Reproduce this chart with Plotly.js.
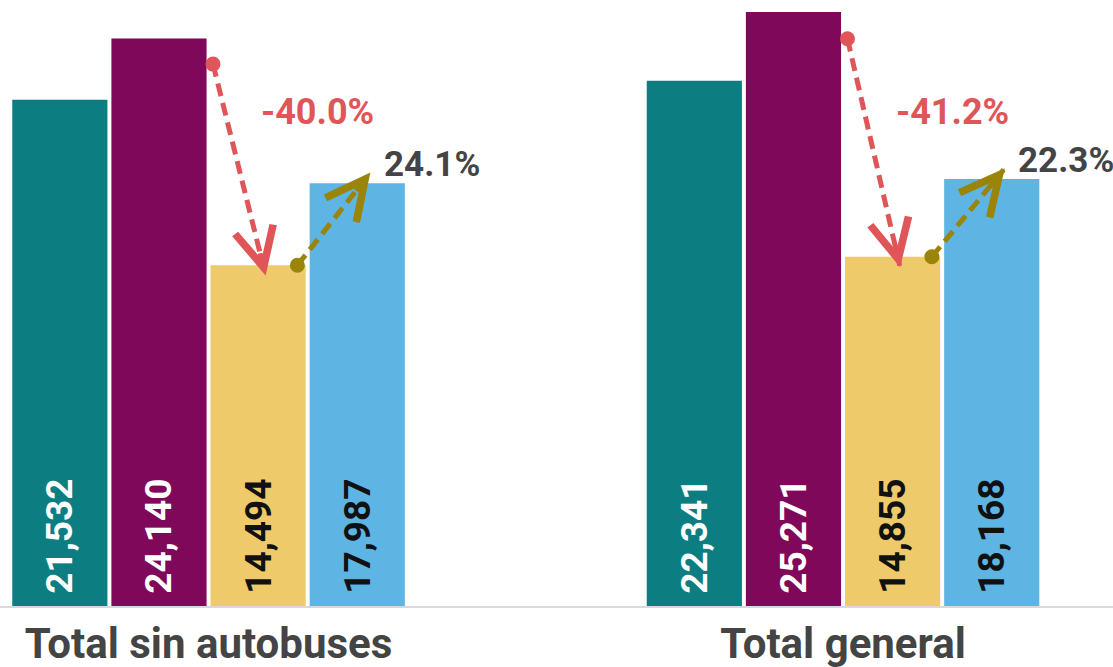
<!DOCTYPE html>
<html>
<head>
<meta charset="utf-8">
<script src="https://cdn.plot.ly/plotly-3.0.1.min.js"></script>
<style>html,body{margin:0;padding:0;background:#fff;}#chart{width:1113px;height:667px;}</style>
</head>
<body>
<div id="chart"></div>
<script>
// ---- data ----
const categories = ["Total sin autobuses", "Total general"];
const seriesNames = ["Serie 1", "Serie 2", "Serie 3", "Serie 4"];
const serie1 = [21532, 22341];
const serie2 = [24140, 25271];
const serie3 = [14494, 14855];
const serie4 = [17987, 18168];

// ---- styles ----
const barColors = ["#0C7E82", "#7F085B", "#EECA6A", "#5EB5E4"];
const textColors = ["#ffffff", "#ffffff", "#111111", "#111111"];
const redColor = "#E05558";
const oliveColor = "#9A840A";
const darkText = "#444444";
const FONT = "Roboto, 'Noto Sans', sans-serif";

const W = 1113, H = 667, MB = 61;
const XR = [-0.3287, 1.4255], YR = [0, 25780];
const pxPerX = W / (XR[1] - XR[0]);
const pxPerY = (H - MB) / (YR[1] - YR[0]);

const xPos = categories.map((c, i) => i);
const allSeries = [serie1, serie2, serie3, serie4];

const traces = allSeries.map((s, k) => ({
  type: "bar",
  name: seriesNames[k],
  x: xPos,
  y: s,
  marker: { color: barColors[k] },
  texttemplate: "\u00a0%{y:,}",
  textposition: "inside",
  insidetextanchor: "start",
  textangle: -90,
  textfont: { family: FONT, size: 37, weight: "bold", color: textColors[k] },
  hoverinfo: "skip",
  cliponaxis: false
}));

const annotations = [];
const fmt = v => v.toFixed(1) + "%";

xPos.forEach((x0, i) => {
  // red arrow: serie2 -> serie3
  const rs = { x: x0 + 0.007, y: serie2[i] * 0.955 };
  const re = { x: x0 + 0.09, y: serie3[i] * 0.97 };
  // olive arrow: serie3 -> serie4
  const os = { x: x0 + 0.14, y: serie3[i] };
  const oe = { x: x0 + 0.255, y: serie4[i] * 1.025 };

  [[rs, re, redColor], [os, oe, oliveColor]].forEach(([s, e, col]) => {
    traces.push({
      type: "scatter",
      mode: "lines+markers",
      x: [s.x, e.x],
      y: [s.y, e.y],
      line: { color: col, width: 5, dash: "13px,7px" },
      marker: { color: col, size: [15, 0], opacity: 1, line: { width: 0 } },
      hoverinfo: "skip",
      showlegend: false,
      cliponaxis: false
    });
    const lenPx = Math.hypot((e.x - s.x) * pxPerX, (e.y - s.y) * pxPerY);
    const f = 24 / lenPx;
    annotations.push({
      x: e.x, y: e.y, xref: "x", yref: "y",
      axref: "x", ayref: "y",
      ax: e.x - (e.x - s.x) * f, ay: e.y - (e.y - s.y) * f,
      text: " ", font: { size: 1 }, borderpad: 0,
      showarrow: true,
      arrowhead: 5, arrowsize: 1.6, arrowwidth: 4.8, arrowcolor: col
    });
  });

  const drop = (serie3[i] / serie2[i] - 1) * 100;
  const rise = (serie4[i] / serie3[i] - 1) * 100;
  annotations.push({
    x: x0 + 0.172, y: 21000, xref: "x", yref: "y",
    text: fmt(drop), showarrow: false, xanchor: "center", yanchor: "middle",
    font: { family: FONT, size: 36, weight: "bold", color: redColor }
  });
  annotations.push({
    x: x0 + 0.273, y: serie4[i] + 800, xref: "x", yref: "y",
    text: fmt(rise), showarrow: false, xanchor: "left", yanchor: "middle",
    font: { family: FONT, size: 35, weight: "bold", color: darkText }
  });
});

const layout = {
  width: W, height: H,
  margin: { l: 0, r: 0, t: 0, b: MB, pad: 0 },
  paper_bgcolor: "#ffffff", plot_bgcolor: "#ffffff",
  showlegend: false,
  barmode: "group",
  bargap: 0.375,
  bargroupgap: 0.04,
  font: { family: FONT },
  xaxis: {
    type: "linear",
    range: XR,
    tickvals: xPos,
    ticktext: categories,
    tickfont: { family: FONT, size: 42, weight: "bold", color: darkText },
    showgrid: false, zeroline: false,
    showline: true, linecolor: "#d9d9d9", linewidth: 2,
    ticks: "", fixedrange: true
  },
  yaxis: {
    range: YR,
    visible: false, showgrid: false, zeroline: false, fixedrange: true
  },
  annotations: annotations
};

Plotly.newPlot("chart", traces, layout, { displayModeBar: false, staticPlot: true });
</script>
</body>
</html>
